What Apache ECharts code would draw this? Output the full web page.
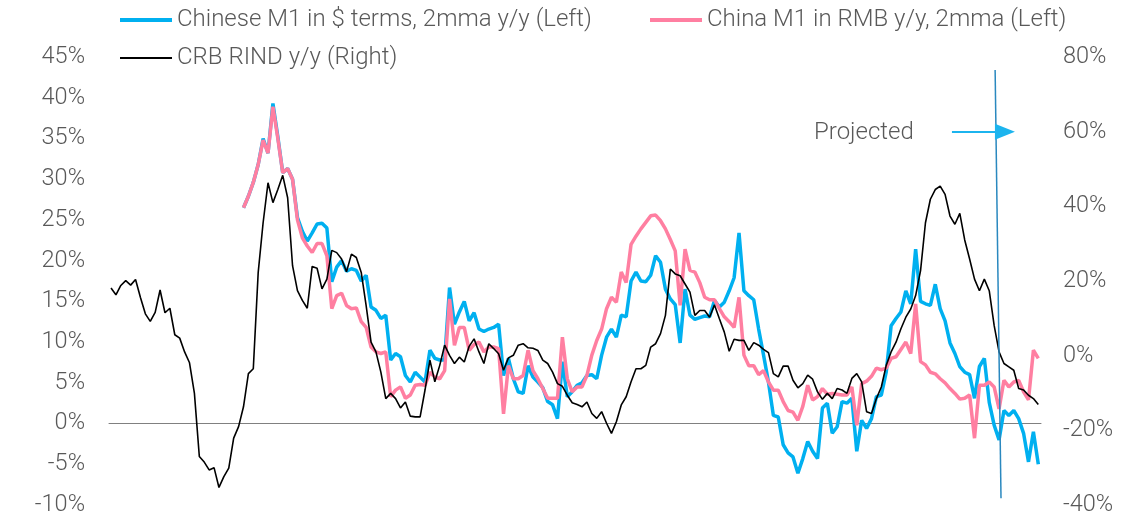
<!DOCTYPE html>
<html>
<head>
<meta charset="utf-8">
<script src="https://cdn.jsdelivr.net/npm/echarts@6/dist/echarts.min.js"></script>
<style>
html,body{margin:0;padding:0;background:#fff;}
#chart{width:1133px;height:517px;}
</style>
</head>
<body>
<div id="chart"></div>
<script>
// Monthly observations, index 0 = first month shown (approx. Apr 2007)
const crbRind = [
  18.1,16.3,18.8,20.1,18.9,20.4,15.6,11.2,9.2,11.6,
  17.6,11.5,12.7,5.6,4.7,1.0,-1.9,-10.1,-27.0,-28.5,
  -30.6,-30.0,-35.3,-32.4,-30.1,-22.1,-19,-13.7,-4.8,-3.5,
  22.3,35.6,46.3,41,44.5,48.3,42.3,24.1,17.4,14.8,
  12.7,23.9,23.4,17.9,20.5,28.2,27.6,25.9,22.5,27.2,
  26.3,22.3,13.4,3.6,1.0,-4.4,-11.5,-10.1,-11.5,-14,
  -12.4,-16.2,-16.4,-16.4,-9.2,-1.2,-7,-2.6,2.8,0.1,
  -2.1,-0.4,-1.7,2.5,4.5,1,-2.1,3.2,1.9,0.5,
  -3.9,-0.6,0.1,2.8,3.2,2.1,2.0,1.4,-1.2,-2.1,
  -4.4,-7.5,-8.2,-10.6,-12.6,-13.1,-13.7,-12.4,-15.5,-16.8,
  -15,-18.1,-20.8,-17.7,-13.2,-11,-7,-3.5,-3.5,-2.6,
  2.3,3.2,5.9,10.8,23.2,21.9,21.4,19.2,17,10.8,
  12.1,12.1,10.3,13.6,9.9,6.3,1.2,4.4,4.1,4.1,
  1.4,3.5,2.8,1.7,0.8,-4.8,-5.7,-2.8,-2.8,-6.6,
  -8.6,-7.5,-5.2,-6.3,-9.7,-11.7,-10.1,-11.5,-8.8,-9.2,
  -10.1,-6.1,-4.8,-7,-15,-15.5,-11.5,-8.4,-2.6,1,
  3.6,7.2,10.3,12.5,16.1,22.8,35.6,41.9,44.5,45.4,
  43.2,37.4,35.2,38.1,31,25.9,20.5,17.4,20.5,17.4,
  8.1,1,-2.1,-3,-3.9,-8.8,-9.2,-10.6,-11.5,-13.1
];

// M1 series begin at month index 27
const m1Start = 27;
const m1Usd = [
  26.5,27.9,29.6,
  31.8,35.0,33.2,39.3,35.2,30.8,31.3,30.0,25.3,23.6,
  22.4,23.4,24.5,24.6,24.0,17.4,19.2,20.0,18.7,19.0,
  18.8,17.5,18.2,14.3,13.9,12.9,13.3,7.8,8.6,8.2,
  5.9,5.1,6.3,5.7,5.1,9.0,8.0,7.8,7.8,16.7,
  12.2,13.7,15.0,12.6,13.6,11.6,11.3,11.6,11.8,12.2,
  5.9,8.0,5.5,3.9,3.7,7.1,5.7,5.1,4.4,2.7,
  2.3,0.6,7.6,3.3,3.9,4.7,5.0,5.9,6.0,5.5,
  8.4,10.6,11.6,10.6,13.3,13.1,17.5,18.6,17.5,17.4,
  18.2,20.6,19.8,16.5,15.3,14.6,9.9,16.5,13.3,12.8,
  13.0,13.2,13.1,15.1,14.3,14.9,16.3,17.9,23.4,16.3,
  15.7,15.2,11.6,8.4,5.1,1.0,0.8,-2.6,-3.6,-4.1,
  -6.1,-4.3,-2.2,-3.4,-4.3,1.9,2.5,-1.2,-0.4,2.7,
  2.5,3.1,-3.4,0.4,-0.6,0.6,3.3,3.5,6.3,12.0,
  12.9,13.7,16.3,14.7,21.4,15.0,14.7,14.5,17.1,14.1,
  12.6,9.9,8.6,7.0,6.3,6.0,3.1,7.0,8.0,2.6,
  -0.2,-2.0,1.6,1.0,1.6,0.6,-1.2,-4.7,-1.0,-5.0
];
const m1Rmb = [
  26.5,27.9,29.6,
  31.8,34.8,33.2,38.9,35.0,30.8,31.3,30.0,25.0,22.8,
  21.8,21.0,22.1,22.1,20.6,14.1,15.7,16.0,14.5,14.1,
  14.2,12.5,11.8,9.4,8.8,8.6,8.8,3.3,4.1,4.5,
  3.1,3.5,4.7,4.8,4.7,6.3,5.7,5.5,6.5,15.3,
  9.6,11.8,11.8,9.0,9.7,10.0,8.8,9.4,9.4,9.2,
  1.2,7.1,5.5,5.5,5.9,9.0,6.5,5.5,4.3,3.1,
  3.1,3.1,10.6,5.5,3.9,4.5,4.5,5.9,8.4,10.2,
  11.6,14.1,15.5,14.9,18.6,17.3,22.0,23.0,23.9,24.7,
  25.5,25.6,24.9,23.9,22.6,21.2,14.5,21.4,18.8,18.6,
  17.3,15.5,15.2,15.2,14.1,13.1,12.5,11.8,15.5,8.4,
  7.1,7.1,6.0,6.5,5.1,4.1,4.1,2.7,1.6,1.4,
  0.4,2.1,4.7,2.9,3.3,4.3,3.6,3.7,3.6,3.5,
  3.5,4.5,-0.2,4.9,5.2,5.8,6.8,6.6,6.8,8.0,
  8.2,9.1,10.0,8.6,14.7,7.6,7.2,6.3,6.1,5.5,
  5.0,4.3,3.7,3.0,3.1,3.5,-1.8,4.7,4.7,5.1,
  4.5,1.8,5.3,4.5,5.1,5.3,3.9,2.9,9.0,8.0
];

const leftTicks = {min: -10, max: 45, interval: 5};
const rightTicks = {min: -40, max: 80, interval: 20};
const names = [
  'Chinese M1 in $ terms, 2mma y/y (Left)',
  'China M1 in RMB y/y, 2mma (Left)',
  'CRB RIND y/y (Right)'
];
// projection marker (month index where projection starts) and annotation
const projStart = [180.2, 181.4];
const arrowSpan = [171.4, 182.2];

const FONT = 'Roboto';
const GREY = '#595959';
const BLUE = '#00B0F0';
const PINK = '#FF7FA1';

const chart = echarts.init(document.getElementById('chart'), null, {renderer: 'canvas'});
const legendText = {fontSize: 24, color: GREY, fontFamily: FONT, fontWeight: 300};
const legendBase = {itemWidth: 52, icon: 'rect', textStyle: legendText, selectedMode: false, padding: 0};
const option = {
  animation: false,
  backgroundColor: '#fff',
  grid: {left: 109, right: 92, top: 57, bottom: 10, containLabel: false},
  legend: [
    Object.assign({data: [names[0]], left: 120, top: 8, itemHeight: 4}, legendBase),
    Object.assign({data: [names[1]], left: 650, top: 8, itemHeight: 4}, legendBase),
    Object.assign({data: [names[2]], left: 120, top: 46, itemHeight: 2}, legendBase)
  ],
  xAxis: {
    type: 'value', min: -0.41, max: crbRind.length - 1 + 0.55,
    axisLabel: {show: false}, axisTick: {show: false}, splitLine: {show: false},
    axisLine: {show: true, onZero: true, onZeroAxisIndex: 0, lineStyle: {color: '#808080', width: 1}}
  },
  yAxis: [
    {type: 'value', min: leftTicks.min, max: leftTicks.max, interval: leftTicks.interval,
     axisLine: {show: false}, axisTick: {show: false}, splitLine: {show: false},
     axisLabel: {formatter: '{value}%', fontSize: 23.5, color: GREY, fontFamily: FONT, fontWeight: 300, margin: 24}},
    {type: 'value', min: rightTicks.min, max: rightTicks.max, interval: rightTicks.interval,
     axisLine: {show: false}, axisTick: {show: false}, splitLine: {show: false},
     axisLabel: {formatter: '{value}%', fontSize: 23.5, color: GREY, fontFamily: FONT, fontWeight: 300, margin: 22}}
  ],
  series: [
    {name: names[0], type: 'line', yAxisIndex: 0, color: BLUE, showSymbol: false, symbol: 'none',
     lineStyle: {width: 3.5, color: BLUE}, z: 2,
     data: m1Usd.map((v, k) => [m1Start + k, v]),
     markLine: {silent: true, symbol: 'none', label: {show: false}, animation: false,
       lineStyle: {color: '#2A88BF', width: 1.5, type: 'solid'},
       data: [[{coord: [projStart[0], 43.4]}, {coord: [projStart[1], -9.16]}]]}},
    {name: names[1], type: 'line', yAxisIndex: 0, color: PINK, showSymbol: false, symbol: 'none',
     lineStyle: {width: 3.5, color: PINK}, z: 3,
     data: m1Rmb.map((v, k) => [m1Start + k, v]),
     markLine: {silent: true, symbol: ['none', 'triangle'], symbolSize: [16, 20], label: {show: false}, animation: false,
       lineStyle: {color: '#1CB4EE', width: 2, type: 'solid'},
       data: [[{coord: [arrowSpan[0], 35.83]}, {coord: [arrowSpan[1], 35.83]}]]}},
    {name: names[2], type: 'line', yAxisIndex: 1, color: '#000', showSymbol: false, symbol: 'none',
     lineStyle: {width: 1.6, color: '#000'}, z: 4,
     data: crbRind.map((v, i) => [i, v])}
  ],
  graphic: [
    {type: 'text', left: 814, top: 121, style: {text: 'Projected', fontSize: 24, fill: GREY, fontFamily: FONT, fontWeight: 300}}
  ]
};
chart.setOption(option);
</script>
</body>
</html>
